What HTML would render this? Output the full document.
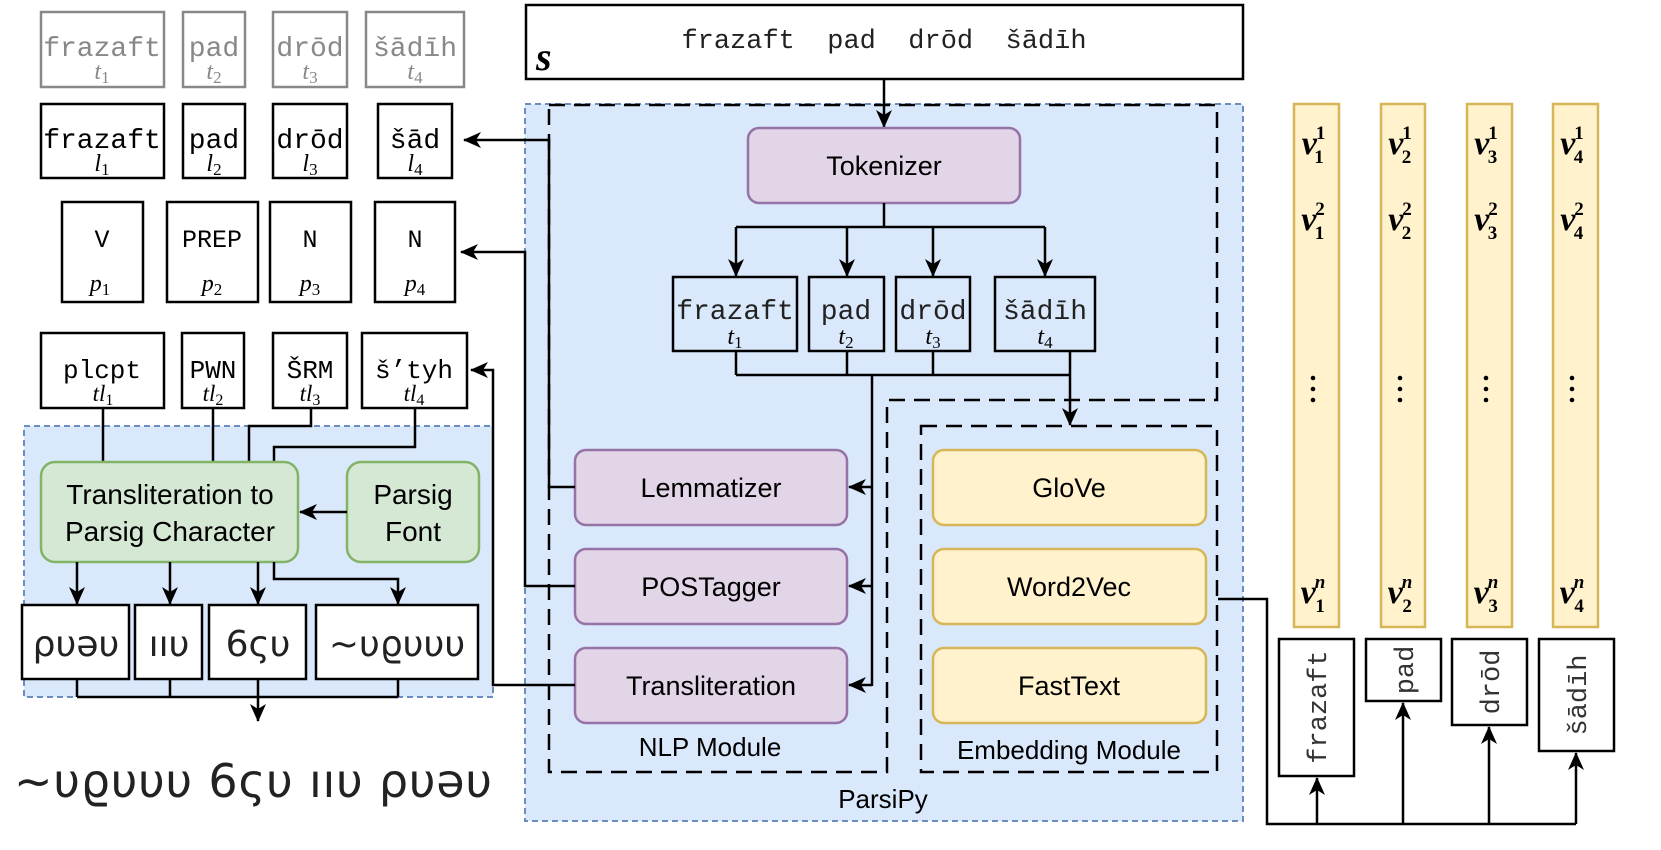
<!DOCTYPE html>
<html><head><meta charset="utf-8"><style>
html,body{margin:0;padding:0;background:#fff;}
svg{display:block;}
.m{font-family:"Liberation Mono",monospace;}
.s{font-family:"Liberation Sans",sans-serif;}
.i{font-family:"Liberation Serif",serif;font-style:italic;}
.b{font-family:"DejaVu Sans",sans-serif;font-weight:bold;}
</style></head><body>
<svg width="1661" height="850" viewBox="0 0 1661 850" xmlns="http://www.w3.org/2000/svg">
<defs>
<marker id="a" markerWidth="18" markerHeight="16" refX="17" refY="8" orient="auto" markerUnits="userSpaceOnUse">
<path d="M0,0 L18,8 L0,16 L5,8 Z" fill="#000"/>
</marker>
</defs>

<rect x="525" y="104" width="718" height="717" fill="#dae8fc" stroke="#6c8ebf" stroke-width="2" stroke-dasharray="6 4"/>
<rect x="24" y="426" width="469" height="271" fill="#dae8fc" stroke="#6c8ebf" stroke-width="2" stroke-dasharray="6 4"/>

<path d="M549,105 H1217 V400 H887 V772 H549 Z" fill="none" stroke="#000" stroke-width="2.5" stroke-dasharray="16 9"/>
<rect x="921" y="426" width="296" height="346" fill="none" stroke="#000" stroke-width="2.5" stroke-dasharray="16 9"/>

<rect x="526" y="5" width="717" height="74" fill="#fff" stroke="#000" stroke-width="2.5"/>
<text x="884" y="48" class="m" font-size="27" text-anchor="middle" fill="#222" xml:space="preserve">frazaft  pad  drōd  šādīh</text>
<text x="536" y="70" font-family="Liberation Serif,serif" font-style="italic" font-weight="bold" font-size="40">s</text>
<line x1="884" y1="79" x2="884" y2="127" stroke="#000" stroke-width="2.5" marker-end="url(#a)"/>

<rect x="748" y="128" width="272" height="75" rx="11" fill="#e1d5e7" stroke="#9673a6" stroke-width="2.5"/>
<text x="884" y="175" class="s" font-size="27" text-anchor="middle">Tokenizer</text>
<path d="M884,203 V227 M736,227 H1045" stroke="#000" stroke-width="2.5" fill="none"/>
<g stroke="#000" stroke-width="2.5" marker-end="url(#a)">
<line x1="736" y1="227" x2="736" y2="276"/>
<line x1="847" y1="227" x2="847" y2="276"/>
<line x1="933" y1="227" x2="933" y2="276"/>
<line x1="1045" y1="227" x2="1045" y2="276"/>
</g>
<g fill="none" stroke="#000" stroke-width="2.5">
<rect x="673" y="277" width="124" height="74"/>
<rect x="809" y="277" width="75" height="74"/>
<rect x="896" y="277" width="74" height="74"/>
<rect x="995" y="277" width="100" height="74"/>
</g>
<g class="m" font-size="28" text-anchor="middle" fill="#222">
<text x="735" y="319">frazaft</text>
<text x="846" y="319">pad</text>
<text x="933" y="319">drōd</text>
<text x="1045" y="319">šādīh</text>
</g>
<g class="i" font-size="24" text-anchor="middle">
<text x="735" y="344">t<tspan font-size="17" font-style="normal" dy="4">1</tspan></text>
<text x="846" y="344">t<tspan font-size="17" font-style="normal" dy="4">2</tspan></text>
<text x="933" y="344">t<tspan font-size="17" font-style="normal" dy="4">3</tspan></text>
<text x="1045" y="344">t<tspan font-size="17" font-style="normal" dy="4">4</tspan></text>
</g>
<path d="M736,351 V375 M847,351 V375 M933,351 V375 M1070,351 V375 M736,375 H1070 M872,375 V686" stroke="#000" stroke-width="2.5" fill="none"/>
<line x1="1070" y1="375" x2="1070" y2="425" stroke="#000" stroke-width="2.5" marker-end="url(#a)"/>
<g stroke="#000" stroke-width="2.5" marker-end="url(#a)">
<line x1="872" y1="487" x2="849" y2="487"/>
<line x1="872" y1="586" x2="849" y2="586"/>
<line x1="872" y1="685" x2="849" y2="685"/>
</g>

<g fill="#e1d5e7" stroke="#9673a6" stroke-width="2.5">
<rect x="575" y="450" width="272" height="75" rx="11"/>
<rect x="575" y="549" width="272" height="75" rx="11"/>
<rect x="575" y="648" width="272" height="75" rx="11"/>
</g>
<g class="s" font-size="27" text-anchor="middle">
<text x="711" y="497">Lemmatizer</text>
<text x="711" y="596">POSTagger</text>
<text x="711" y="695">Transliteration</text>
<text x="710" y="756" font-size="26">NLP Module</text>
<text x="1069" y="759" font-size="26">Embedding Module</text>
<text x="883" y="808" font-size="26">ParsiPy</text>
</g>
<g fill="#fff2cc" stroke="#d6b656" stroke-width="2.5">
<rect x="933" y="450" width="273" height="75" rx="11"/>
<rect x="933" y="549" width="273" height="75" rx="11"/>
<rect x="933" y="648" width="273" height="75" rx="11"/>
</g>
<g class="s" font-size="27" text-anchor="middle">
<text x="1069" y="497">GloVe</text>
<text x="1069" y="596">Word2Vec</text>
<text x="1069" y="695">FastText</text>
</g>

<path d="M575,487 H549 V140 H464" stroke="#000" stroke-width="2.5" fill="none" marker-end="url(#a)"/>
<path d="M575,586 H525 V252 H461" stroke="#000" stroke-width="2.5" fill="none" marker-end="url(#a)"/>
<path d="M575,685 H493 V370 H471" stroke="#000" stroke-width="2.5" fill="none" marker-end="url(#a)"/>

<g fill="none" stroke="#888" stroke-width="2.5">
<rect x="41" y="12" width="123" height="75"/>
<rect x="183" y="12" width="62" height="75"/>
<rect x="273" y="12" width="74" height="75"/>
<rect x="366" y="12" width="98" height="75"/>
</g>
<g class="m" font-size="28" text-anchor="middle" fill="#888">
<text x="102" y="56">frazaft</text>
<text x="214" y="56">pad</text>
<text x="310" y="56">drōd</text>
<text x="415" y="56">šādīh</text>
</g>
<g class="i" font-size="24" text-anchor="middle" fill="#888">
<text x="102" y="79">t<tspan font-size="17" font-style="normal" dy="4">1</tspan></text>
<text x="214" y="79">t<tspan font-size="17" font-style="normal" dy="4">2</tspan></text>
<text x="310" y="79">t<tspan font-size="17" font-style="normal" dy="4">3</tspan></text>
<text x="415" y="79">t<tspan font-size="17" font-style="normal" dy="4">4</tspan></text>
</g>
<g fill="#fff" stroke="#000" stroke-width="2.5">
<rect x="41" y="104" width="123" height="74"/>
<rect x="183" y="104" width="62" height="74"/>
<rect x="273" y="104" width="74" height="74"/>
<rect x="378" y="104" width="74" height="74"/>
</g>
<g class="m" font-size="28" text-anchor="middle">
<text x="102" y="148">frazaft</text>
<text x="214" y="148">pad</text>
<text x="310" y="148">drōd</text>
<text x="415" y="148">šād</text>
</g>
<g class="i" font-size="24" text-anchor="middle">
<text x="102" y="171">l<tspan font-size="17" font-style="normal" dy="4">1</tspan></text>
<text x="214" y="171">l<tspan font-size="17" font-style="normal" dy="4">2</tspan></text>
<text x="310" y="171">l<tspan font-size="17" font-style="normal" dy="4">3</tspan></text>
<text x="415" y="171">l<tspan font-size="17" font-style="normal" dy="4">4</tspan></text>
</g>
<g fill="#fff" stroke="#000" stroke-width="2.5">
<rect x="62" y="202" width="81" height="100"/>
<rect x="167" y="202" width="91" height="100"/>
<rect x="270" y="202" width="81" height="100"/>
<rect x="375" y="202" width="80" height="100"/>
</g>
<g class="m" font-size="25" text-anchor="middle">
<text x="102" y="247">V</text>
<text x="212" y="247">PREP</text>
<text x="310" y="247">N</text>
<text x="415" y="247">N</text>
</g>
<g class="i" font-size="24" text-anchor="middle">
<text x="100" y="291">p<tspan font-size="17" font-style="normal" dy="4">1</tspan></text>
<text x="212" y="291">p<tspan font-size="17" font-style="normal" dy="4">2</tspan></text>
<text x="310" y="291">p<tspan font-size="17" font-style="normal" dy="4">3</tspan></text>
<text x="415" y="291">p<tspan font-size="17" font-style="normal" dy="4">4</tspan></text>
</g>
<g fill="#fff" stroke="#000" stroke-width="2.5">
<rect x="41" y="333" width="123" height="75"/>
<rect x="182" y="333" width="62" height="75"/>
<rect x="273" y="333" width="74" height="75"/>
<rect x="362" y="333" width="105" height="75"/>
</g>
<g class="m" font-size="26" text-anchor="middle">
<text x="102" y="378">plcpt</text>
<text x="213" y="378">PWN</text>
<text x="310" y="378">ŠRM</text>
<text x="414" y="378">š’tyh</text>
</g>
<g class="i" font-size="23" text-anchor="middle">
<text x="103" y="401">tl<tspan font-size="16" font-style="normal" dy="4">1</tspan></text>
<text x="213" y="401">tl<tspan font-size="16" font-style="normal" dy="4">2</tspan></text>
<text x="310" y="401">tl<tspan font-size="16" font-style="normal" dy="4">3</tspan></text>
<text x="414" y="401">tl<tspan font-size="16" font-style="normal" dy="4">4</tspan></text>
</g>
<path d="M103,408 V462 M213,408 V462 M311,408 V426 H249 V462 M415,408 V447 H274 V462" stroke="#000" stroke-width="2.5" fill="none"/>

<g fill="#d5e8d4" stroke="#82b366" stroke-width="2.5">
<rect x="41" y="462" width="257" height="100" rx="14"/>
<rect x="347" y="462" width="132" height="100" rx="14"/>
</g>
<g class="s" font-size="28" text-anchor="middle">
<text x="170" y="504">Transliteration to</text>
<text x="170" y="541">Parsig Character</text>
<text x="413" y="504">Parsig</text>
<text x="413" y="541">Font</text>
</g>
<line x1="347" y1="512" x2="300" y2="512" stroke="#000" stroke-width="2.5" marker-end="url(#a)"/>
<g stroke="#000" stroke-width="2.5" fill="none" marker-end="url(#a)">
<line x1="77" y1="562" x2="77" y2="604"/>
<line x1="170" y1="562" x2="170" y2="604"/>
<line x1="258" y1="562" x2="258" y2="604"/>
<path d="M274,562 V579 H398 V604"/>
</g>
<g fill="#fff" stroke="#000" stroke-width="2.5">
<rect x="22" y="605" width="107" height="74"/>
<rect x="135" y="605" width="67" height="74"/>
<rect x="209" y="605" width="97" height="74"/>
<rect x="316" y="605" width="162" height="74"/>
</g>
<g font-family="DejaVu Sans,sans-serif" font-size="36" text-anchor="middle" fill="#222">
<text x="76" y="656">ρυəυ</text>
<text x="169" y="656">ııυ</text>
<text x="258" y="656">6ςυ</text>
<text x="397" y="656">~υϱυυυ</text>
</g>
<path d="M77,679 V697 M170,679 V697 M398,679 V697 M77,697 H398 M258,679 V697" stroke="#000" stroke-width="2.5" fill="none"/>
<line x1="258" y1="697" x2="258" y2="721" stroke="#000" stroke-width="2.5" marker-end="url(#a)"/>
<text x="253" y="797" font-family="DejaVu Sans,sans-serif" font-size="46" text-anchor="middle" fill="#222" textLength="478">~υϱυυυ 6ςυ ııυ ρυəυ</text>

<g fill="#fff2cc" stroke="#d6b656" stroke-width="2.5">
<rect x="1294" y="104" width="45" height="523"/>
<rect x="1381" y="104" width="44" height="523"/>
<rect x="1467" y="104" width="45" height="523"/>
<rect x="1553" y="104" width="45" height="523"/>
</g>
<g class="i" font-size="34" font-weight="bold" text-anchor="middle">
<text x="1313" y="154">v<tspan font-size="19" font-style="normal" dx="-1" dy="-15">1</tspan><tspan font-size="19" font-style="normal" dx="-10" dy="24">1</tspan></text>
<text x="1400" y="154">v<tspan font-size="19" font-style="normal" dx="-1" dy="-15">1</tspan><tspan font-size="19" font-style="normal" dx="-10" dy="24">2</tspan></text>
<text x="1486" y="154">v<tspan font-size="19" font-style="normal" dx="-1" dy="-15">1</tspan><tspan font-size="19" font-style="normal" dx="-10" dy="24">3</tspan></text>
<text x="1572" y="154">v<tspan font-size="19" font-style="normal" dx="-1" dy="-15">1</tspan><tspan font-size="19" font-style="normal" dx="-10" dy="24">4</tspan></text>
<text x="1313" y="230">v<tspan font-size="19" font-style="normal" dx="-1" dy="-15">2</tspan><tspan font-size="19" font-style="normal" dx="-10" dy="24">1</tspan></text>
<text x="1400" y="230">v<tspan font-size="19" font-style="normal" dx="-1" dy="-15">2</tspan><tspan font-size="19" font-style="normal" dx="-10" dy="24">2</tspan></text>
<text x="1486" y="230">v<tspan font-size="19" font-style="normal" dx="-1" dy="-15">2</tspan><tspan font-size="19" font-style="normal" dx="-10" dy="24">3</tspan></text>
<text x="1572" y="230">v<tspan font-size="19" font-style="normal" dx="-1" dy="-15">2</tspan><tspan font-size="19" font-style="normal" dx="-10" dy="24">4</tspan></text>
<text x="1313" y="603">v<tspan font-size="19" dx="-1" dy="-15">n</tspan><tspan font-size="19" font-style="normal" dx="-10" dy="24">1</tspan></text>
<text x="1400" y="603">v<tspan font-size="19" dx="-1" dy="-15">n</tspan><tspan font-size="19" font-style="normal" dx="-10" dy="24">2</tspan></text>
<text x="1486" y="603">v<tspan font-size="19" dx="-1" dy="-15">n</tspan><tspan font-size="19" font-style="normal" dx="-10" dy="24">3</tspan></text>
<text x="1572" y="603">v<tspan font-size="19" dx="-1" dy="-15">n</tspan><tspan font-size="19" font-style="normal" dx="-10" dy="24">4</tspan></text>
</g>
<g fill="#000">
<circle cx="1313" cy="378" r="2.3"/><circle cx="1313" cy="389" r="2.3"/><circle cx="1313" cy="400" r="2.3"/>
<circle cx="1400" cy="378" r="2.3"/><circle cx="1400" cy="389" r="2.3"/><circle cx="1400" cy="400" r="2.3"/>
<circle cx="1486" cy="378" r="2.3"/><circle cx="1486" cy="389" r="2.3"/><circle cx="1486" cy="400" r="2.3"/>
<circle cx="1572" cy="378" r="2.3"/><circle cx="1572" cy="389" r="2.3"/><circle cx="1572" cy="400" r="2.3"/>
</g>
<g fill="#fff" stroke="#000" stroke-width="2.5">
<rect x="1279" y="639" width="75" height="137"/>
<rect x="1366" y="639" width="75" height="62"/>
<rect x="1452" y="639" width="75" height="86"/>
<rect x="1539" y="639" width="75" height="112"/>
</g>
<g class="m" font-size="27" text-anchor="middle" fill="#333">
<text transform="translate(1326,707) rotate(-90)">frazaft</text>
<text transform="translate(1413,670) rotate(-90)">pad</text>
<text transform="translate(1499,682) rotate(-90)">drōd</text>
<text transform="translate(1586,695) rotate(-90)">šādīh</text>
</g>
<path d="M1218,599 H1267 V824 H1576" stroke="#000" stroke-width="2.5" fill="none"/>
<g stroke="#000" stroke-width="2.5" marker-end="url(#a)">
<line x1="1317" y1="824" x2="1317" y2="778"/>
<line x1="1403" y1="824" x2="1403" y2="703"/>
<line x1="1489" y1="824" x2="1489" y2="727"/>
<line x1="1576" y1="824" x2="1576" y2="753"/>
</g>
</svg>
</body></html>
